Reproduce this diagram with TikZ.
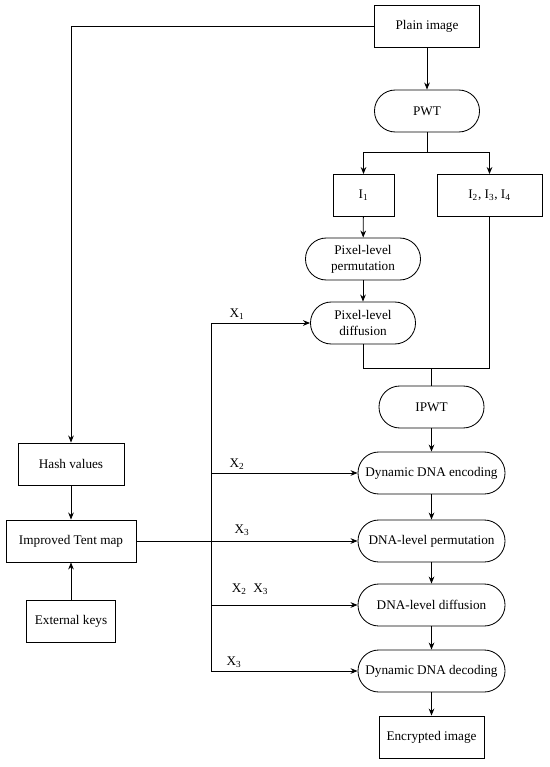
\documentclass[tikz,border=0pt]{standalone}
\usepackage{fontspec}
\setmainfont{Liberation Serif}
\usetikzlibrary{arrows.meta}
\tikzset{
  box/.style={draw, minimum width=#1*0.025cm, minimum height=42*0.025cm, inner sep=0pt},
  box/.default=105,
  rbox/.style={draw, rounded corners=0.52cm, minimum width=#1*0.025cm, minimum height=42*0.025cm, inner sep=0pt, align=center},
  rbox/.default=105,
  lbl/.style={inner sep=0pt}
}
\begin{document}
\begin{tikzpicture}[x=0.025cm, y=-0.025cm, line width=0.6pt,
    >={Stealth[length=5pt,width=4pt]}, font=\fontsize{9.4}{11.2}\selectfont]
      \useasboundingbox (0,0) rectangle (550,767);
      \node[box] (plain) at (427,26) {Plain image};
      \node[rbox] (pwt) at (427,111) {PWT};
      \node[box=61] (i1) at (363.5,195.5) {I\textsubscript{1}};
      \node[box] (i234) at (489.5,195.5) {I\textsubscript{2}, I\textsubscript{3}, I\textsubscript{4}};
      \node[rbox=115] (perm) at (363,259) {Pixel-level\\permutation};
      \node[rbox] (diff) at (363,323) {Pixel-level\\diffusion};
      \node[rbox] (ipwt) at (431.5,407) {IPWT};
      \node[rbox=147] (enc) at (431.5,473) {Dynamic DNA encoding};
      \node[rbox=147] (dperm) at (431.5,541) {DNA-level permutation};
      \node[rbox=147] (ddiff) at (431.5,605) {DNA-level diffusion};
      \node[rbox=147] (dec) at (431.5,671) {Dynamic DNA decoding};
      \node[box] (cipher) at (431.5,737) {Encrypted image};
      \node[box=106] (hash) at (71,464) {Hash values};
      \node[box=130] (tent) at (71,541) {Improved Tent map};
      \node[box=89] (keys) at (71,621) {External keys};
      \coordinate (split) at (427,152);
      \coordinate (join) at (431.5,368);
      \coordinate (b1) at (211,323);
      \coordinate (b2) at (211,473);
      \coordinate (b4) at (211,605);
      \coordinate (b5) at (211,671);
      \node[lbl] (x1) at (237,314) {X\textsubscript{1}};
      \node[lbl] (x2) at (237,464) {X\textsubscript{2}};
      \node[lbl] (x3) at (242,530) {X\textsubscript{3}};
      \node[lbl] (x23) at (250,589) {X\textsubscript{2}\enspace X\textsubscript{3}};
      \node[lbl] (x3b) at (234,662) {X\textsubscript{3}};
      \begin{scope}[->]
        \draw (plain) -- (pwt);
        \draw (plain) -| (hash);
        \draw (split) -| (i1);
        \draw (split) -| (i234);
        \draw (i1) -- (perm);
        \draw (perm) -- (diff);
        \draw (ipwt) -- (enc);
        \draw (enc) -- (dperm);
        \draw (dperm) -- (ddiff);
        \draw (ddiff) -- (dec);
        \draw (dec) -- (cipher);
        \draw (hash) -- (tent);
        \draw (keys) -- (tent);
        \draw (tent) -- (dperm);
        \draw (b1) -- (diff);
        \draw (b2) -- (enc);
        \draw (b4) -- (ddiff);
        \draw (b5) -- (dec);
      \end{scope}
      \begin{scope}[-]
        \draw (pwt) -- (split);
        \draw (diff) |- (join);
        \draw (i234) |- (join);
        \draw (join) -- (ipwt);
        \draw (b1) -- (b5);
      \end{scope}
    \end{tikzpicture}
\end{document}
